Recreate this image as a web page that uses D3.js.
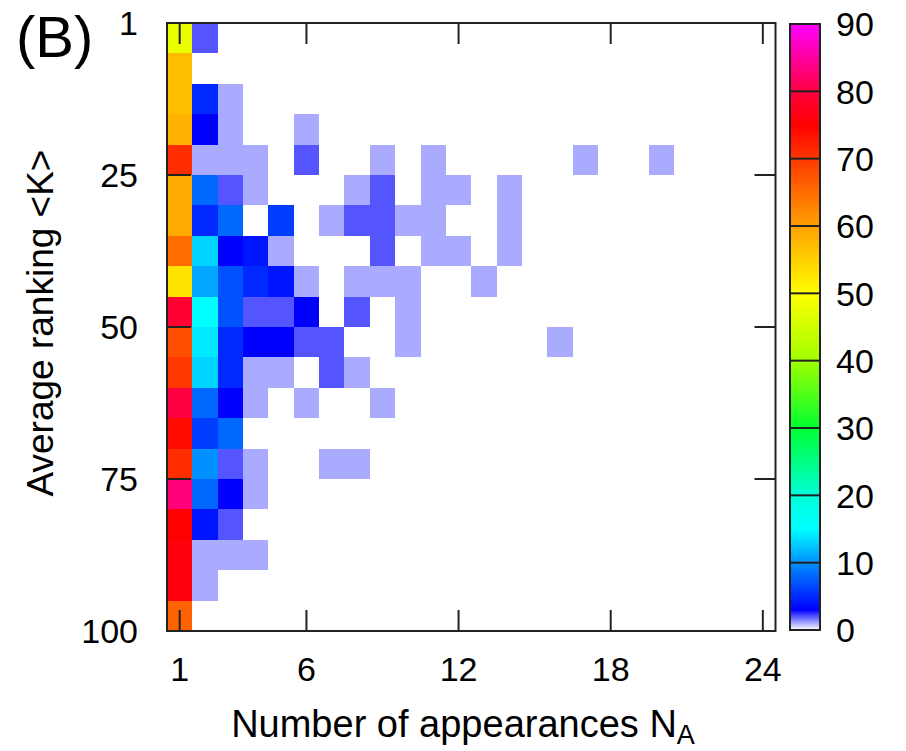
<!DOCTYPE html>
<html>
<head>
<meta charset="utf-8">
<script src="https://cdn.jsdelivr.net/npm/d3@7"></script>
<style>
  html, body { margin: 0; padding: 0; background: #fff; }
  svg { display: block; font-family: "Liberation Sans", Arial, Helvetica, sans-serif; }
</style>
</head>
<body>
<svg id="chart" width="906" height="751"></svg>
<script>
// ---- Data ----
// Rank bins (rows) : each covers 5 ranks, starting at rank 1
const rankBinStart = [0,5,10,15,20,25,30,35,40,45,50,55,60,65,70,75,80,85,90,95];
const binWidth = 5;
// Counts per number of appearances N_A (one array per N_A, one value per rank bin; null = empty)
const nA1  = [48,57,57,58,71,59,59,65,53,79,68,70,80,74,71,83,75,76,76,66];
const nA2  = [2,null,5,3,1,8,5,13,11,15,14,13,8,6,10,8,4,1,1,null];
const nA3  = [null,null,1,1,1,2,8,3,7,7,5,5,3,8,2,3,2,1,null,null];
const nA4  = [null,null,null,null,1,1,null,4,5,2,3,1,1,null,1,1,null,1,null,null];
const nA5  = [null,null,null,null,null,null,6,1,4,2,3,1,null,null,null,null,null,null,null,null];
const nA6  = [null,null,null,1,2,null,null,null,1,3,2,null,1,null,null,null,null,null,null,null];
const nA7  = [null,null,null,null,null,null,1,null,null,null,2,2,null,null,1,null,null,null,null,null];
const nA8  = [null,null,null,null,null,1,2,null,1,2,null,1,null,null,1,null,null,null,null,null];
const nA9  = [null,null,null,null,1,2,2,2,1,null,null,null,1,null,null,null,null,null,null,null];
const nA10 = [null,null,null,null,null,null,1,null,1,1,1,null,null,null,null,null,null,null,null,null];
const nA11 = [null,null,null,null,1,1,1,1,null,null,null,null,null,null,null,null,null,null,null,null];
const nA12 = [null,null,null,null,null,1,null,1,null,null,null,null,null,null,null,null,null,null,null,null];
const nA13 = [null,null,null,null,null,null,null,null,1,null,null,null,null,null,null,null,null,null,null,null];
const nA14 = [null,null,null,null,null,1,1,1,null,null,null,null,null,null,null,null,null,null,null,null];
const nA16 = [null,null,null,null,null,null,null,null,null,null,1,null,null,null,null,null,null,null,null,null];
const nA17 = [null,null,null,null,1,null,null,null,null,null,null,null,null,null,null,null,null,null,null,null];
const nA20 = [null,null,null,null,1,null,null,null,null,null,null,null,null,null,null,null,null,null,null,null];
const columns = [
  {n: 1, v: nA1}, {n: 2, v: nA2}, {n: 3, v: nA3}, {n: 4, v: nA4}, {n: 5, v: nA5},
  {n: 6, v: nA6}, {n: 7, v: nA7}, {n: 8, v: nA8}, {n: 9, v: nA9}, {n: 10, v: nA10},
  {n: 11, v: nA11}, {n: 12, v: nA12}, {n: 13, v: nA13}, {n: 14, v: nA14},
  {n: 16, v: nA16}, {n: 17, v: nA17}, {n: 20, v: nA20}
];

const xTicks = [1, 6, 12, 18, 24];
const yTicks = [0, 25, 50, 75, 100];
const yTickLabels = ["1", "25", "50", "75", "100"];
const cbTicks = [0, 10, 20, 30, 40, 50, 60, 70, 80, 90];

// palette stops
const palStops  = [0, 3, 10, 15, 20, 30, 40, 50, 60, 70, 75, 80, 90];
const palColors = ["#ffffff","#0000ff","#0090ff","#00ffff","#00ffd8","#00ff30",
                   "#a0ff00","#ffff00","#ffa000","#ff3800","#ff0000","#ff0040","#ff00ff"];

// ---- Layout ----
const svg = d3.select("#chart");
const L = 167, R = 775.5, T = 23, B = 631;
const x = d3.scaleLinear().domain([0.5, 24.5]).range([L, R]);
const y = d3.scaleLinear().domain([0, 100]).range([T, B]);
const color = d3.scaleLinear().domain(palStops).range(palColors).interpolate(d3.interpolateRgb).clamp(true);

// cells
const cells = [];
columns.forEach(c => c.v.forEach((val, i) => {
  if (val !== null) cells.push({n: c.n, k0: rankBinStart[i], val});
}));
svg.append("g").selectAll("rect").data(cells).join("rect")
  .attr("x", d => x(d.n - 0.5))
  .attr("y", d => y(d.k0))
  .attr("width", d => x(d.n + 0.5) - x(d.n - 0.5))
  .attr("height", d => y(d.k0 + binWidth) - y(d.k0))
  .attr("fill", d => color(d.val))
  .attr("shape-rendering", "crispEdges");

const axisColor = "#222";
const tickG = svg.append("g").attr("stroke", axisColor).attr("stroke-width", 2);
// x ticks (bottom & top, inward)
xTicks.forEach(t => {
  tickG.append("line").attr("x1", x(t)).attr("x2", x(t)).attr("y1", B).attr("y2", B - 21);
  tickG.append("line").attr("x1", x(t)).attr("x2", x(t)).attr("y1", T).attr("y2", T + 21);
});
// y ticks (left & right, inward)
yTicks.forEach(t => {
  tickG.append("line").attr("x1", L).attr("x2", L + 24).attr("y1", y(t)).attr("y2", y(t));
  tickG.append("line").attr("x1", R).attr("x2", R - 21).attr("y1", y(t)).attr("y2", y(t));
});
// frame
svg.append("rect").attr("x", L).attr("y", T).attr("width", R - L).attr("height", B - T)
  .attr("fill", "none").attr("stroke", axisColor).attr("stroke-width", 2);

// tick labels
const fs = 34;
svg.append("g").selectAll("text").data(xTicks).join("text")
  .attr("x", d => x(d)).attr("y", 681).attr("text-anchor", "middle")
  .attr("font-size", fs).attr("fill", "#000").text(d => d);
svg.append("g").selectAll("text").data(yTicks).join("text")
  .attr("x", 138).attr("y", d => y(d)).attr("dy", "0.36em").attr("text-anchor", "end")
  .attr("font-size", fs).attr("fill", "#000").text((d, i) => yTickLabels[i]);

// axis labels
const xl = svg.append("text").attr("x", 463).attr("y", 737).attr("text-anchor", "middle")
  .attr("font-size", 38).attr("fill", "#000");
xl.append("tspan").text("Number of appearances N");
xl.append("tspan").attr("font-size", 27).attr("dy", 7).text("A");

svg.append("text").attr("transform", "translate(53,323) rotate(-90)")
  .attr("text-anchor", "middle").attr("font-size", 37).attr("fill", "#000")
  .text("Average ranking <K>");

svg.append("text").attr("x", 16).attr("y", 57).attr("font-size", 58).attr("fill", "#000").text("(B)");

// ---- Colorbar ----
const cbL = 790, cbR = 820, cbT = 24, cbB = 630;
const cy = d3.scaleLinear().domain([0, 90]).range([cbB, cbT]);
const defs = svg.append("defs");
const grad = defs.append("linearGradient").attr("id", "cbgrad")
  .attr("x1", 0).attr("x2", 0).attr("y1", 1).attr("y2", 0);
palStops.forEach((s, i) => {
  grad.append("stop").attr("offset", (s / 90)).attr("stop-color", palColors[i]);
});
svg.append("rect").attr("x", cbL).attr("y", cbT).attr("width", cbR - cbL).attr("height", cbB - cbT)
  .attr("fill", "url(#cbgrad)");
const cbG = svg.append("g").attr("stroke", axisColor).attr("stroke-width", 2);
cbTicks.forEach(t => {
  cbG.append("line").attr("x1", cbL).attr("x2", cbR).attr("y1", cy(t)).attr("y2", cy(t));
});
svg.append("rect").attr("x", cbL).attr("y", cbT).attr("width", cbR - cbL).attr("height", cbB - cbT)
  .attr("fill", "none").attr("stroke", axisColor).attr("stroke-width", 2);
svg.append("g").selectAll("text").data(cbTicks).join("text")
  .attr("x", 836).attr("y", d => cy(d)).attr("dy", "0.36em")
  .attr("font-size", fs).attr("fill", "#000").text(d => d);
</script>
</body>
</html>
